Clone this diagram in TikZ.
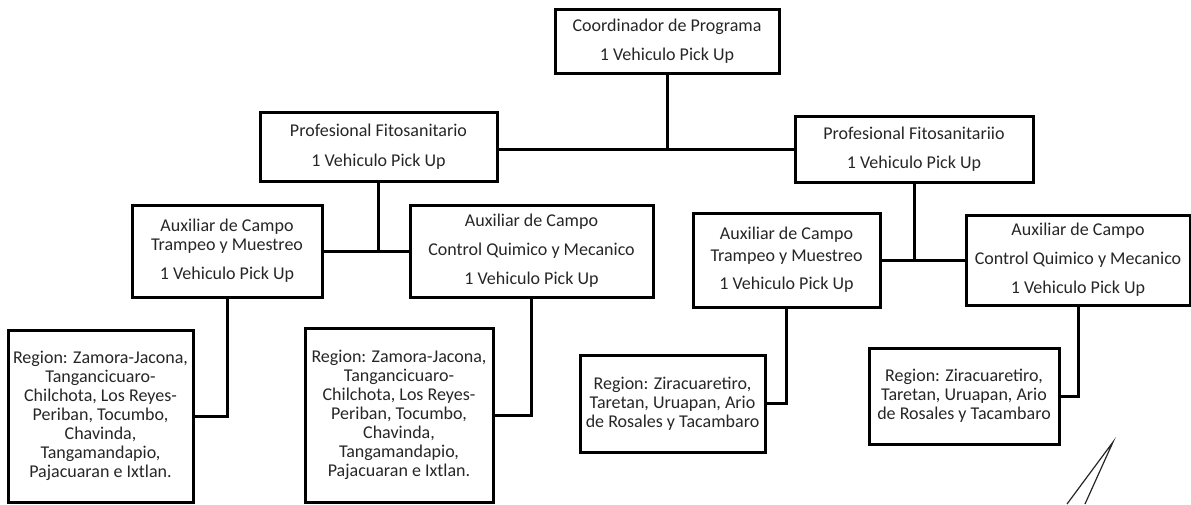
\documentclass[tikz,border=0pt]{standalone}
\usepackage{fontspec}
\setmainfont{Carlito}
\usepackage{tikz}

\tikzset{
  box/.style={draw, line width=3pt, inner sep=0pt, align=center, text=black!85,
              font=\fontsize{18}{19}\selectfont},
  link/.style={line width=3pt}
}

\begin{document}
\begin{tikzpicture}[x=1pt,y=-1pt]

\useasboundingbox (0,0) rectangle (1191,504);

% top
\node[box, minimum width=224pt, minimum height=64pt] (coord) at (667,41)
    {Coordinador de Programa\\[10pt]1 Vehiculo Pick Up};

% second level
\node[box, minimum width=237pt, minimum height=69pt] (profL) at (378.5,146.5)
    {Profesional Fitosanitario\\[11pt]1 Vehiculo Pick Up};
\node[box, minimum width=238pt, minimum height=66pt] (profR) at (914,149)
    {Profesional Fitosanitariio\\[10pt]1 Vehiculo Pick Up};

% auxiliares
\node[box, minimum width=190pt, minimum height=92pt] (auxL1) at (227,251)
    {Auxiliar de Campo\\Trampeo y Muestreo\\[10pt]1 Vehiculo Pick Up};
\node[box, minimum width=243pt, minimum height=92pt] (auxL2) at (531.5,251)
    {Auxiliar de Campo\\[10pt]Control Quimico y Mecanico\\[10pt]1 Vehiculo Pick Up};
\node[box, minimum width=187pt, minimum height=94pt] (auxR1) at (786.5,260)
    {Auxiliar de Campo\\[3pt]Trampeo y Muestreo\\[9pt]1 Vehiculo Pick Up};
\node[box, minimum width=224pt, minimum height=90pt] (auxR2) at (1078,260)
    {Auxiliar de Campo\\[10pt]Control Quimico y Mecanico\\[10pt]1 Vehiculo Pick Up};

% regiones
\node[box, minimum width=185pt, minimum height=172pt] (regL1) at (100.5,416)
    {Region: Zamora-Jacona,\\Tangancicuaro-\\Chilchota, Los Reyes-\\Periban, Tocumbo,\\Chavinda,\\Tangamandapio,\\Pajacuaran e Ixtlan.};
\node[box, minimum width=188pt, minimum height=174pt] (regL2) at (399,415)
    {Region: Zamora-Jacona,\\Tangancicuaro-\\Chilchota, Los Reyes-\\Periban, Tocumbo,\\Chavinda,\\Tangamandapio,\\Pajacuaran e Ixtlan.};
\node[box, minimum width=185pt, minimum height=97pt] (regR1) at (672.5,403.5)
    {Region: Ziracuaretiro,\\Taretan, Uruapan, Ario\\de Rosales y Tacambaro};
\node[box, minimum width=190pt, minimum height=96pt] (regR2) at (964,396)
    {Region: Ziracuaretiro,\\Taretan, Uruapan, Ario\\de Rosales y Tacambaro};

% lines
\coordinate (jtop) at (667,149);
\draw[link] (coord.south) -- (jtop);
\draw[link] (profL.east |- jtop) -- (profR.west |- jtop);

\draw[link] (profL.south) -- (profL.south |- auxL1.east);
\draw[link] (auxL1.east) -- (auxL2.west);
\draw[link] (profR.south) -- (profR.south |- auxR1.east);
\draw[link] (auxR1.east) -- (auxR2.west);

\draw[link] (auxL1.south) |- (regL1.east);
\draw[link] (auxL2.south) |- (regL2.east);
\draw[link] (auxR1.south) |- (regR1.east);
\draw[link] (auxR2.south) |- (regR2.east);

% pen mark
\draw[line width=1.2pt, black!85] (1067,504) -- (1113,442) -- (1085,504);

\end{tikzpicture}
\end{document}
